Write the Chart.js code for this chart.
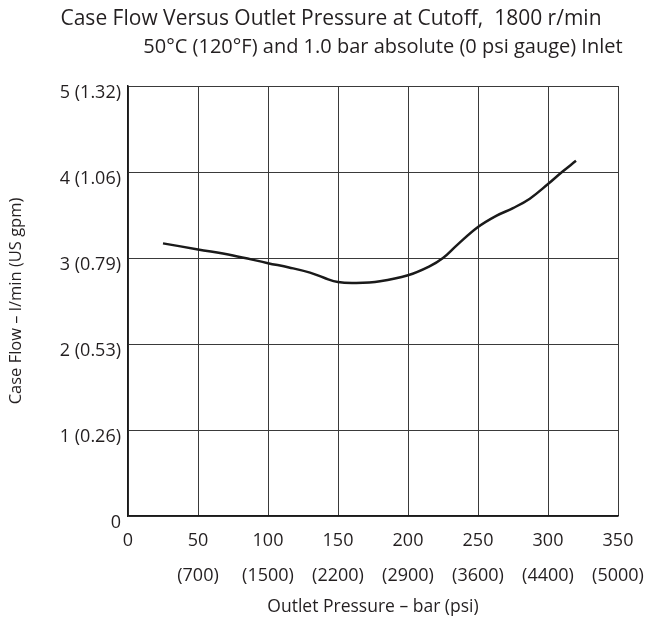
<!DOCTYPE html>
<html>
<head>
<meta charset="utf-8">
<script src="https://cdn.jsdelivr.net/npm/chart.js@4"></script>
<style>
  html, body { margin: 0; padding: 0; background: #fff; }
  #wrap { width: 665px; height: 617px; }
</style>
</head>
<body>
<div id="wrap"><canvas id="caseFlowChart" width="665" height="617"></canvas></div>
<script>
// pressure in bar (x) and case flow in l/min (y)
const pressureBar = [25, 50, 75, 100, 115, 130, 140, 150, 163, 180, 200, 215, 225, 235, 250, 263, 275, 287, 300, 310, 320];
const caseFlow = [3.17, 3.10, 3.03, 2.94, 2.89, 2.83, 2.77, 2.72, 2.71, 2.73, 2.80, 2.90, 3.00, 3.15, 3.36, 3.49, 3.58, 3.69, 3.86, 4.00, 4.13];

const xTickBar = ["0", "50", "100", "150", "200", "250", "300", "350"];
const xTickPsi = ["", "(700)", "(1500)", "(2200)", "(2900)", "(3600)", "(4400)", "(5000)"];
const yTickLabels = ["0", "1 (0.26)", "2 (0.53)", "3 (0.79)", "4 (1.06)", "5 (1.32)"];

const titleLines = [
  "Case Flow Versus Outlet Pressure at Cutoff,  1800 r/min",
  "50°C (120°F) and 1.0 bar absolute (0 psi gauge) Inlet"
];

const FONT = "'Open Sans', 'Noto Sans', sans-serif";
const INK = "#231f20";

const titlePlugin = {
  id: "twoLineTitle",
  afterDraw(chart) {
    const ctx = chart.ctx;
    ctx.save();
    ctx.fillStyle = INK;
    ctx.textAlign = "center";
    ctx.textBaseline = "middle";
    ctx.font = "21px " + FONT;
    ctx.fillText(titleLines[0], 331, 19);
    ctx.font = "20px " + FONT;
    ctx.fillText(titleLines[1], 383, 47);
    ctx.restore();
  }
};

const points = pressureBar.map((x, i) => ({ x: x, y: caseFlow[i] }));

new Chart(document.getElementById("caseFlowChart"), {
  type: "scatter",
  data: {
    datasets: [
      {
        data: points,
        showLine: true,
        borderColor: "#1a1a1a",
        borderWidth: 2.5,
        pointRadius: 0,
        tension: 0.4,
        fill: false,
      },
    ],
  },
  options: {
    responsive: false,
    animation: false,
    layout: { padding: { top: 86, right: 47, left: 0, bottom: 0 } },
    plugins: {
      legend: { display: false },
      tooltip: { enabled: false },
    },
    scales: {
      x: {
        type: "linear",
        min: 0,
        max: 350,
        afterFit: (s) => { s.height = 101; },
        afterBuildTicks: (s) => {
          s.ticks = xTickBar.map((v) => ({ value: Number(v) }));
        },
        ticks: {
          autoSkip: false,
          maxRotation: 0,
          padding: 8,
          color: INK,
          font: { family: FONT, size: 18, lineHeight: 1.93 },
          callback: (value, i) => (xTickPsi[i] ? [xTickBar[i], xTickPsi[i]] : xTickBar[i]),
        },
        grid: { color: "#3a3a3a", lineWidth: 1, drawTicks: false },
        border: { color: "#1a1a1a", width: 1.5 },
        title: {
          display: true,
          text: "Outlet Pressure – bar (psi)",
          color: INK,
          font: { family: FONT, size: 17.5, lineHeight: 1.1 },
          padding: { top: 0, bottom: 0 },
        },
      },
      y: {
        type: "linear",
        min: 0,
        max: 5,
        afterFit: (s) => { s.width = 128; },
        ticks: {
          stepSize: 1,
          padding: 7,
          labelOffset: 7,
          color: INK,
          font: { family: FONT, size: 18 },
          callback: (value) => yTickLabels[value],
        },
        grid: { color: "#3a3a3a", lineWidth: 1, drawTicks: false },
        border: { color: "#1a1a1a", width: 1.5 },
        title: {
          display: true,
          text: "Case Flow – l/min (US gpm)",
          color: INK,
          font: { family: FONT, size: 16.5 },
          padding: { top: 6, bottom: 0 },
        },
      },
    },
  },
  plugins: [titlePlugin],
});
</script>
</body>
</html>
